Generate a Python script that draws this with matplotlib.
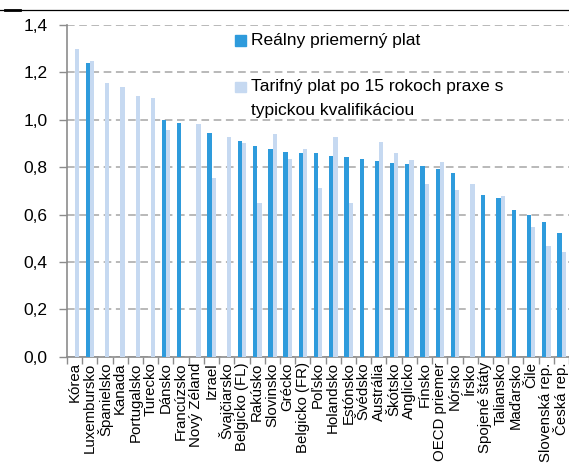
import numpy as np
import matplotlib
matplotlib.use("Agg")
import matplotlib.pyplot as plt
from matplotlib.patches import Rectangle
from matplotlib.lines import Line2D

plt.rcParams["font.family"] = ["Liberation Sans", "DejaVu Sans"]

countries = [
    "Kórea", "Luxembursko", "Španielsko", "Kanada", "Portugalsko", "Turecko",
    "Dánsko", "Francúzsko", "Nový Zéland", "Izrael", "Švajčiarsko",
    "Belgicko (FL)", "Rakúsko", "Slovinsko", "Grécko", "Belgicko (FR)",
    "Poľsko", "Holandsko", "Estónsko", "Švédsko", "Austrália", "Škótsko",
    "Anglicko", "Fínsko", "OECD priemer", "Nórsko", "Írsko", "Spojené štáty",
    "Taliansko", "Maďarsko", "Čile", "Slovenská rep.", "Česká rep.",
]
# Reálny priemerný plat (NaN = not available)
real_pay = [
    np.nan, 1.24, np.nan, np.nan, np.nan, np.nan,
    1.00, 0.985, np.nan, 0.943, np.nan,
    0.911, 0.888, 0.876, 0.862, 0.859,
    0.858, 0.847, 0.841, 0.833, 0.827, 0.819,
    0.815, 0.806, 0.793, 0.775, np.nan, 0.681,
    0.668, 0.619, 0.597, 0.568, 0.521,
]
# Tarifný plat po 15 rokoch praxe
statutory_pay = [
    1.30, 1.248, 1.156, 1.138, 1.100, 1.093,
    0.955, np.nan, 0.982, 0.753, 0.927,
    0.900, 0.649, 0.940, 0.834, 0.876,
    0.713, 0.928, 0.650, np.nan, 0.906, 0.858,
    0.831, 0.730, 0.822, 0.705, 0.729, np.nan,
    0.678, np.nan, 0.549, 0.467, 0.443,
]
yticks = [0.0, 0.2, 0.4, 0.6, 0.8, 1.0, 1.2, 1.4]

W, H = 569, 469
DARK = "#2E9BDC"
LIGHT = "#C6D9F1"
GRAY = "#8C8C8C"

fig = plt.figure(figsize=(W / 100, H / 100), dpi=100)
ax = fig.add_axes([67 / W, 1 - 356.7 / H, (W - 67) / W, (356.7 - 25) / H])

x = np.arange(len(countries))
bw = 0.28
ax.bar(x - 0.13, real_pay, width=bw, color=DARK, zorder=3)
ax.bar(x + 0.15, statutory_pay, width=bw, color=LIGHT, zorder=3)

ax.set_xlim(-0.5, len(countries) - 0.5)
ax.set_ylim(0, 1.4)
ax.set_yticks(yticks)
ax.set_yticklabels([f"{v:.1f}".replace(".", ",") for v in yticks], fontsize=12.5)
ax.set_xticks(x)
ax.set_xticklabels(countries, rotation=90, fontsize=10.8)
ax.set_xticks(np.arange(len(countries) + 1) - 0.5, minor=True)
ax.tick_params(axis="x", which="major", length=0, pad=4)
ax.tick_params(axis="x", which="minor", length=5, width=1, color=GRAY)
ax.tick_params(axis="y", length=6, width=1, color=GRAY, pad=8)

ax.yaxis.grid(True, color="#A6A6A6", linestyle=(0, (5, 3)), linewidth=1.1, zorder=0)
for s in ["top", "right"]:
    ax.spines[s].set_visible(False)
for s in ["left", "bottom"]:
    ax.spines[s].set_color(GRAY)
    ax.spines[s].set_linewidth(1.2)


def fx(px):
    return px / W


def fy(py):
    return 1 - py / H


# legend drawn by hand, inside the plot area
fig.add_artist(Rectangle((fx(235), fy(46)), 10.5 / W, 10.5 / H, color=DARK,
                         transform=fig.transFigure))
fig.text(fx(251), fy(41), "Reálny priemerný plat", fontsize=12.5, va="center")
fig.add_artist(Rectangle((fx(235), fy(92.3)), 10.5 / W, 10.5 / H, color=LIGHT,
                         transform=fig.transFigure))
fig.text(fx(251), fy(87), "Tarifný plat po 15 rokoch praxe s", fontsize=12.5, va="center")
fig.text(fx(251), fy(111), "typickou kvalifikáciou", fontsize=12.5, va="center")

# top border line
fig.add_artist(Line2D([0, 1], [fy(10), fy(10)], color="black", lw=0.9,
                      transform=fig.transFigure))
fig.add_artist(Line2D([fx(5), fx(20)], [fy(10), fy(10)], color="black", lw=2,
                      transform=fig.transFigure))

fig.savefig("out.png", dpi=100)
